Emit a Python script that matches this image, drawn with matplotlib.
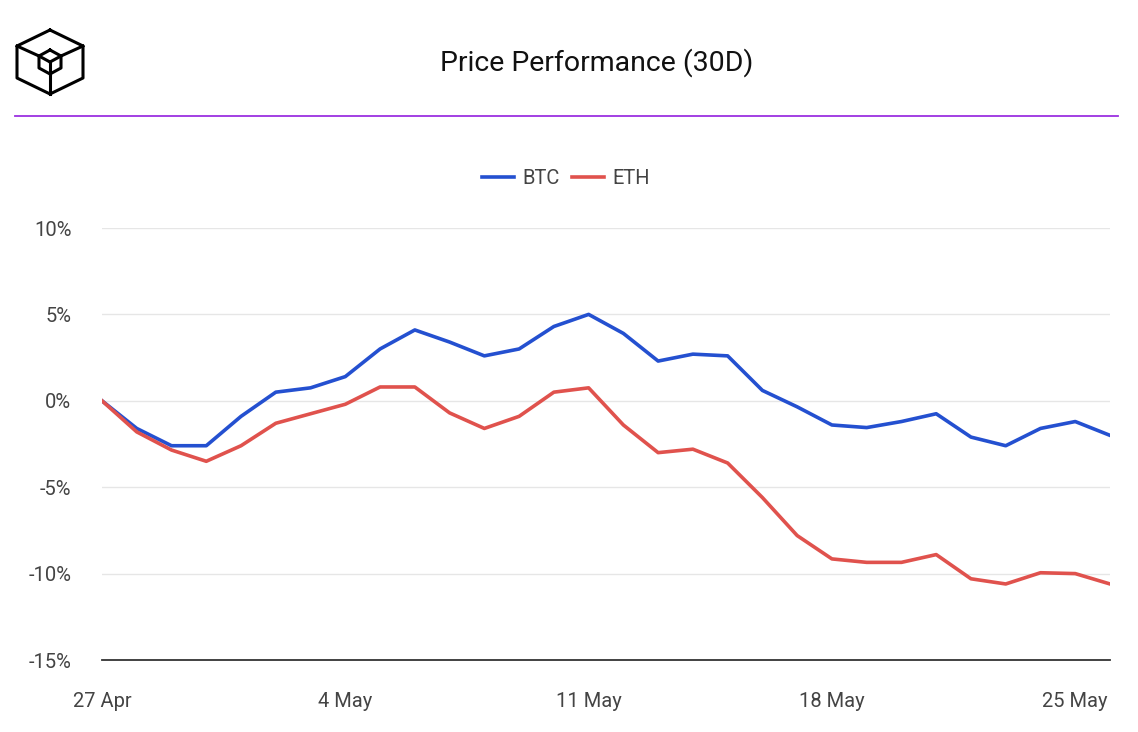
import matplotlib
matplotlib.use("Agg")
import matplotlib.pyplot as plt
from matplotlib.lines import Line2D
import numpy as np

days = list(range(30))
btc = [0, -1.6, -2.6, -2.6, -0.9, 0.5, 0.75, 1.4, 3.0, 4.1, 3.4, 2.6, 3.0, 4.3, 5.0, 3.9, 2.3, 2.7, 2.6, 0.6,
       -0.35, -1.4, -1.55, -1.2, -0.75, -2.1, -2.6, -1.6, -1.2, -2.0]
eth = [0, -1.8, -2.85, -3.5, -2.6, -1.3, -0.75, -0.2, 0.8, 0.8, -0.7, -1.6, -0.9, 0.5, 0.75, -1.4, -3.0, -2.8, -3.6, -5.6,
       -7.8, -9.15, -9.35, -9.35, -8.9, -10.3, -10.6, -9.95, -10.0, -10.6]
xtick_pos = [0, 7, 14, 21, 28]
xtick_labels = ["27 Apr", "4 May", "11 May", "18 May", "25 May"]
yticks = [-15, -10, -5, 0, 5, 10]

plt.rcParams['font.family'] = ['Roboto', 'DejaVu Sans']
W, H = 1138, 732
fig = plt.figure(figsize=(W/100, H/100), dpi=100)
ax = fig.add_axes([102/W, (H-660)/H, (1110-102)/W, (660-228)/H])
ax.plot(days, btc, color='#2450d0', lw=2.6, label='BTC')
ax.plot(days, eth, color='#e0524d', lw=2.6, label='ETH')
ax.set_xlim(0, 29)
ax.set_ylim(-15, 10)
ax.set_yticks(yticks)
ax.set_yticklabels([f"{v}%" for v in yticks])
ax.set_xticks(xtick_pos)
ax.set_xticklabels(xtick_labels)
ax.grid(axis='y', color='#e6e6e6', lw=1)
ax.set_axisbelow(True)
for s in ['top', 'right', 'left']:
    ax.spines[s].set_visible(False)
ax.spines['bottom'].set_color('#333333')
ax.spines['bottom'].set_linewidth(1.3)
ax.tick_params(length=0, labelsize=14.5, colors='#444444')
ax.tick_params(axis='y', pad=22)
ax.tick_params(axis='x', pad=23)
leg = ax.legend(loc='lower center', bbox_to_anchor=(0.46, 1.05), ncol=2, frameon=False,
                fontsize=14.5, handlelength=1.6, columnspacing=0.6, handletextpad=0.4)
for t in leg.get_texts():
    t.set_color('#444444')

fig.text(597/W, 1-63/H, "Price Performance (30D)", ha='center', va='center', fontsize=20.5, color='#111111')
fig.add_artist(Line2D([15/W, 1118/W], [1-116/H]*2, color='#9b30e0', lw=1.3))

def P(x, y):
    return (x/W, 1-y/H)
outer = [(50, 30), (83, 46), (83, 78), (50, 94), (17, 78), (17, 46), (50, 30)]
xs, ys = zip(*[P(*p) for p in outer])
fig.add_artist(Line2D(xs, ys, color='black', lw=2.2))
inner = [(50, 50), (61, 56), (61, 68), (50, 74), (39, 68), (39, 56), (50, 50)]
xs, ys = zip(*[P(*p) for p in inner])
fig.add_artist(Line2D(xs, ys, color='black', lw=2.2))
for a, b in [((17, 46), (39, 56)), ((83, 46), (61, 56)), ((50, 94), (50, 74)), ((39, 56), (50, 62)), ((61, 56), (50, 62)), ((50, 62), (50, 74))]:
    xs, ys = zip(P(*a), P(*b))
    fig.add_artist(Line2D(xs, ys, color='black', lw=2.2))

fig.savefig("out.png", dpi=100)
